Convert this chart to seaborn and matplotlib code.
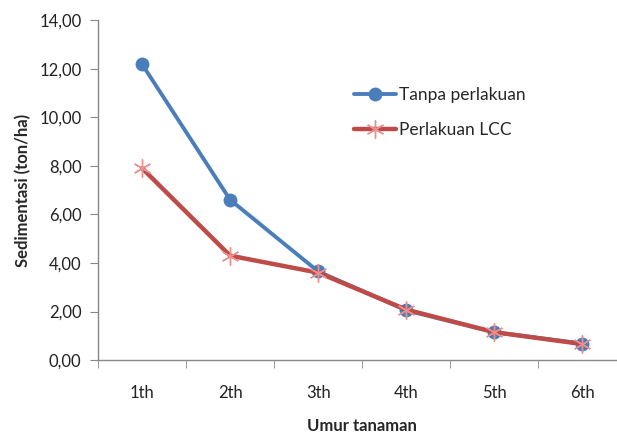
import pandas as pd
import numpy as np
import matplotlib
matplotlib.use("Agg")
import matplotlib.pyplot as plt
import seaborn as sns

# data
umur = ["1th", "2th", "3th", "4th", "5th", "6th"]
tanpa_perlakuan = [12.18, 6.6, 3.65, 2.05, 1.15, 0.68]
perlakuan_lcc = [7.9, 4.3, 3.6, 2.08, 1.15, 0.66]

df = pd.DataFrame({
    "Umur tanaman": umur * 2,
    "Sedimentasi": tanpa_perlakuan + perlakuan_lcc,
    "Seri": ["Tanpa perlakuan"] * len(umur) + ["Perlakuan LCC"] * len(umur),
})

sns.set_style("white")
plt.rcParams["font.family"] = ["Lato", "DejaVu Sans"]

fig = plt.figure(figsize=(6.17, 4.37), dpi=100)
ax = fig.add_axes([0.159, 0.176, 0.856, 0.778])

colors = {"Tanpa perlakuan": "#4a7ebb", "Perlakuan LCC": "#be4b48"}
sns.lineplot(data=df[df["Seri"] == "Tanpa perlakuan"], x="Umur tanaman", y="Sedimentasi",
             color=colors["Tanpa perlakuan"], lw=2.8, marker="o", markersize=10,
             markeredgewidth=0, label="Tanpa perlakuan", ax=ax, sort=False)
sns.lineplot(data=df[df["Seri"] == "Perlakuan LCC"], x="Umur tanaman", y="Sedimentasi",
             color=colors["Perlakuan LCC"], lw=3.2, marker=(6, 2, 0), markersize=13,
             markeredgewidth=1.0, markeredgecolor="#e8908e", label="Perlakuan LCC", ax=ax, sort=False)

ax.set_xlim(-0.5, 5.5)
ax.set_ylim(0, 14)
ax.set_yticks(np.arange(0, 14.1, 2))
ax.set_yticklabels([f"{v:.2f}".replace(".", ",") for v in np.arange(0, 14.1, 2)])
ax.set_xticks(np.arange(6))
ax.set_xticks(np.arange(-0.5, 5.6, 1), minor=True)
ax.tick_params(axis="x", which="major", length=0, pad=18, labelsize=12, labelcolor="#222222")
ax.tick_params(axis="x", which="minor", length=6, direction="out", color="#888888", bottom=True)
ax.tick_params(axis="y", length=6, direction="out", color="#888888", left=True, labelsize=12,
               labelcolor="#222222", pad=6)

for s in ["top", "right"]:
    ax.spines[s].set_visible(False)
for s in ["left", "bottom"]:
    ax.spines[s].set_color("#888888")
    ax.spines[s].set_linewidth(1.0)

ax.set_xlabel("Umur tanaman", fontsize=12, fontweight="bold", labelpad=12)
ax.set_ylabel("Sedimentasi (ton/ha)", fontsize=12, fontweight="bold", labelpad=6)

ax.legend(loc="upper left", bbox_to_anchor=(0.455, 0.85), frameon=False, fontsize=12.5,
          handlelength=2.4, labelspacing=1.1, handletextpad=0.2)

fig.savefig("out.png", dpi=100)
